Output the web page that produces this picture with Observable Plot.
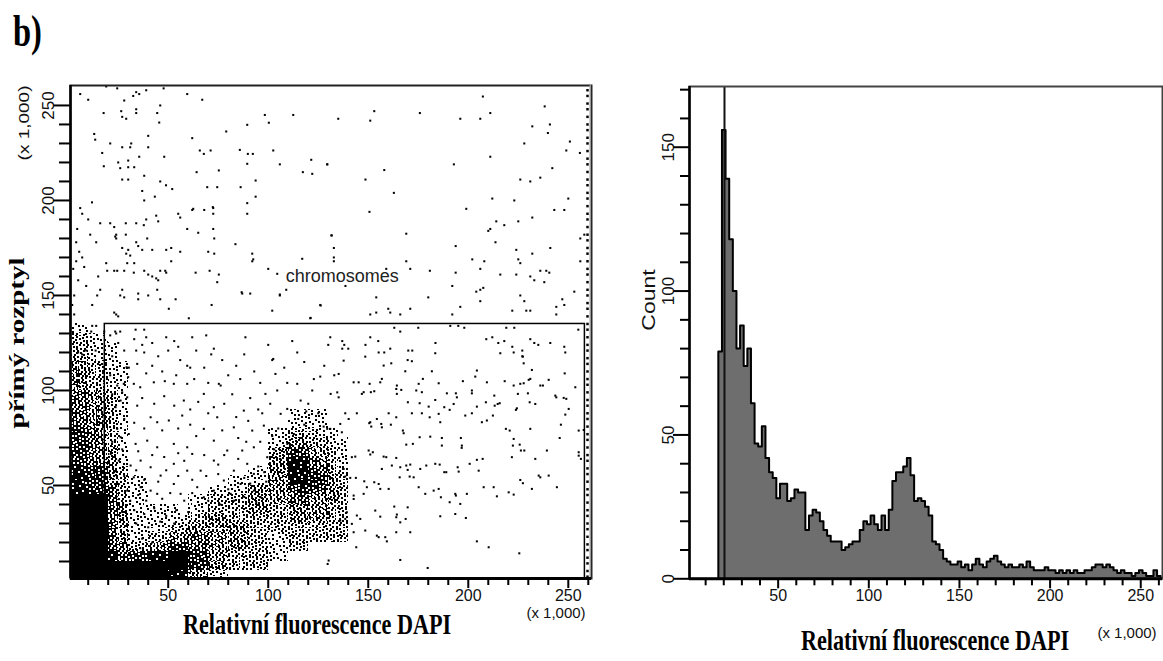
<!DOCTYPE html>
<html><head><meta charset="utf-8">
<script src="https://cdn.jsdelivr.net/npm/d3@7"></script>
<script src="https://cdn.jsdelivr.net/npm/@observablehq/plot@0.6"></script>
<style>
body{margin:0;background:#fff;}
#wrap{position:relative;width:1163px;height:661px;overflow:hidden;background:#fff;}
#wrap > svg{position:absolute;top:0;margin:0;}
</style></head><body><div id="wrap"></div>
<script>
// ---------- DATA ----------
// Histogram (right panel): bin starts (x 1,000) and counts
const histBinStart = [17,19,21,23,25,27,29,31,33,35,37,39,41,43,45,47,49,51,53,55,57,59,61,63,65,67,69,71,73,75,77,79,81,83,85,87,89,91,93,95,97,99,101,103,105,107,109,111,113,115,117,119,121,123,125,127,129,131,133,135,137,139,141,143,145,147,149,151,153,155,157,159,161,163,165,167,169,171,173,175,177,179,181,183,185,187,189,191,193,195,197,199,201,203,205,207,209,211,213,215,217,219,221,223,225,227,229,231,233,235,237,239,241,243,245,247,249,251,253,255,257,259];
const histCount = [79,156,139,118,100,80,88,74,80,61,47,46,53,42,37,35,28,33,33,27,28,31,30,30,17,22,24,23,20,17,15,13,13,13,10,11,12,13,13,17,20,19,22,19,17,22,17,24,34,37,37,39,42,36,27,28,27,25,22,13,12,10,7,6,5,5,6,4,5,3,5,7,5,4,6,7,8,6,5,4,5,4,4,5,4,6,4,3,3,3,4,3,3,2,3,2,3,2,3,2,2,3,3,4,5,5,4,5,4,3,2,3,2,2,1,2,3,2,1,1,3,1];
const histBinWidth = 2;
const histGateX = 20.4;

// Scatter (left panel): density of the saturated areas, 5x5 cells, darkness 0-9
const densityX0 = [0,5,10,15,20,25,30,35,40,45,50,55,60,65,70,75,80,85,90,95,100,105,110,115,120,125,130,135];
const densityY0 = [0,5,10,15,20,25,30,35,40,45,50,55,60,65,70,75,80,85,90,95,100,105,110,115,120,125,130];
const densityRows = [
"9999999999885522110000000000",
"9999999999997744333311000000",
"9999867788997755333322110000",
"9999663355776655443322331110",
"9999642233556655443322333333",
"9999642222334444443333333333",
"9999642222223344333333445533",
"9999642222212233334433445533",
"9999632211112233334455665543",
"8877632211111122224455677643",
"8877432211111111222255887743",
"8877431111111111112244887643",
"7765421111111111111144886532",
"7765421111111111111134765432",
"7765321111111111111122443322",
"7765321111111111111122333221",
"6654321111111111111111222211",
"6654321111111111111111222211",
"6654321111111111111111111111",
"6654321111111111111111111111",
"5433221111111111111111111111",
"5433221111111111111111111111",
"5433221111111111111111111111",
"3322211111111111111111111111",
"3322211111111111111111111111",
"3322111111111111111111111111",
"2211111111111111111111111111"
];

// Scatter: individual events [x, y] (x 1,000)
const scatterPoints = [
[6,256],[10,253],[19,260],[24.5,259],[28,252.6],[32.5,255],[34,257],[35.5,256],[39,258],[47.7,259],[59.5,256],[67,253],[26.5,247],[34,248],[34,246],[46,250],[17.7,246],[27,244],[29,243],[44.5,246],[45.5,241],[13,235],[13.5,232],[21,230],[27,228],[31,228],[31.5,230],[40,234],[40,228],[17,225],[25,220],[30,221],[35.5,223],[48,223],[17.8,218],[26,217],[30,217.5],[33,217.5],[27,211],[30,211],[38,213],[46,210],[48.9,208],[52,206],[37,205],[38,200],[43.3,202],[11.9,199],[7,193],[4.5,185],[16,188],[21,188],[24,182],[23,186],[23.5,181],[24,180],[28.8,188],[28.8,182],[34,188],[39,190],[44,192],[45,189],[37.8,187],[55,193],[56,191],[62,195],[68,195],[72.5,196],[72.5,193],[59.5,185],[65,183],[72.5,185],[73,180],[14,178],[11,182],[5.5,173],[4,168],[2.5,164],[34,178],[35,176],[27,175],[29,172],[30,174],[31,171],[39.5,180],[42,174],[51.5,175],[70,173],[73,172],[83.6,177],[92,172],[92.5,169],[100,164],[19,167],[19.5,163],[23,163],[24.5,163],[28,163],[29.5,167],[33,167],[37,174],[32.8,162],[38,163],[40,161],[42,160],[44,159],[45,158],[46,163],[48.5,163],[49,174],[51.5,168],[56,173],[49,162],[63.7,162],[70.7,163],[75.3,161],[74.5,157],[27,153],[26,150],[28,149],[16,153],[14.5,150],[35,148],[35,151],[40,150],[44.5,153],[46,148],[50.3,143],[53.7,148],[60.3,138],[71.7,145],[87,151],[91,151],[105.8,150],[109,153],[121,138],[126,145],[102,142],[24,140],[25,139],[23,141],[14,134],[18,131],[21,129],[24,130],[11.5,131],[12,134],[5,120],[9,121],[7,119],[13.7,121],[23.5,131],[26,131],[33.7,132],[38,132],[39,128],[49,128],[53,126],[55,123],[34,121],[38,120],[42,125],[62,128],[69,129],[72.8,122],[88.6,128],[102,116],[114.5,120],[130,124],
[3,150],[5,158],[2,145],[8,165],[4,178],[10,190],[6,196],[3,140],[12,145],[9,155],[15,160],[7,170],
[65.8,226.3],[71.2,226.3],[67.8,224.5],[85.8,226.6],[89.8,224.5],[92.3,224.5],[102.5,226.3],[89.5,219.3],[105.8,219],[117.3,214.9],[122,214],[129.5,219],[121.5,221.4],[79,236.3],[89.5,239.8],[98.3,245],[100.3,240.9],[112.5,245],[135,243],[62,232.8],[64.2,214.9],[75.3,215.8],[69.5,207],[74.5,207],[86.2,207],[93.7,210.5],[93.7,202],[89.5,198.6],[89.5,193],[62.5,195.6],[72.3,196.5],[92,168],[131.7,181.6],[132.8,170],[117,169.3],[104.5,161.4],[86.7,151.7],[105.8,150.5],[126.2,144.7],[121.2,138.2],
[207.3,254.7],[238.2,249.5],[240.8,240],[239.8,235.5],[232,239],[250.8,231],[249,226.3],[228,230],[242,217],[226,211],[231,210],[236,212],[211,223],[211,246],[206,243],[196,243],[175.8,246],[153,247],[151,242],[129.5,219],[148.6,211],[158,216],[192.8,219],[162.8,204],[150.6,194],[199,195.6],[212,201],[223,200],[250,201],[243,195],[248,195],[232,191],[214,189],[218,187],[225,189],[211,185],[210,184],[131.6,181.6],[169,182.5],[193.7,176],[213.6,178],[224,174],[232,172],[241,175],[132.8,168],[132.8,175],[159,164],[169,168],[171,164],[180.8,163],[202,169],[206,164],[208,168],[193.7,162],[216,161],[224,161],[225,169],[226,167],[231,160],[233,158],[236,163],[238,157],[239,163],[240.5,162],[256,168],[256,180],[258,182],[255.8,225],[138.6,155],[154,149],[180,149],[192,155],[204,152],[206,153],[207.5,154],[206,147],[226,150],[228,147],[247,148],[248,145],[244,144],[253,152],[151,140],[154,141],[160,143],[161,141],[166,140],[171,143],[192,140],[196,144],[222,142],[229,142],[231,142],[244,140],
[163,133],[166,131],[175,133],[191,134],[195,134],[198,133],[219,133],[223,133],[255,132],[131,128],[137,126],[138,124],[151,128],[155,126],[148.6,124],[137,122],[140,122],[158,120],[161,122],[170,121],[172,121],[183.6,125],[209,127],[212,128],[215,125],[218,126],[222,123],[227,121],[227,118],[231,127],[233,125],[235,124],[241,125],[248,123],
[137.7,115.7],[148.5,117.8],[155.2,120],[157.7,113.1],[161.5,114.3],[169.7,116],[171.8,115.4],[168.5,110.1],[183.5,119.6],[216,119.6],[222.7,120],[227.3,117.8],[227.7,114.3],[231.8,110.8],[248.5,120],[248.2,109],[253.5,101.7],
[135.2,108.7],[142.7,104.3],[145.2,104.3],[150.7,103.5],[156,104.3],[156.8,106.1],[164.3,102.6],[164,100.8],[175.2,103.5],[177.3,106.1],[181.8,110.1],[185.2,103.8],[197.3,104.9],[203.5,107.3],[204.3,110.5],[209.3,104.3],[218.2,104.9],[222.7,102.6],[226,103.5],[227.7,103.8],[230.2,105.6],[231,106.1],[236,102.6],[237.3,102.6],[240.2,105.6],[244,96.4],[247.7,96.1],
[135.2,96.4],[146.8,98.2],[147.7,99.1],[151.3,99.1],[153,99.6],[164.3,98.2],[166.5,100.3],[169.8,93.8],[174,100],[176.8,99.1],[180.2,91.5],[183.5,95],[189.3,98.5],[193.8,98.5],[194.3,96.4],[201.8,98.5],[201.8,100],[208.8,93.8],[213,97.3],[214.7,92.9],[223.8,89.8],[229.8,98.5],[233.5,92.9],[230.7,93.8],[224.8,98.2],[243.5,97.3],[249,95.6],[250.2,90.3],
[138.5,88],[140.2,85],[144.3,88],[151,83.3],[154.3,85],[160.2,88],[161.3,82],[156.8,80.6],[164,85.9],[171.8,88],[175.7,93.3],[176.8,88],[180.7,85.9],[185.2,87.7],[186,83.3],[188,91.2],[190.7,89.8],[192.7,92.9],[198.5,86.8],[201.8,88],[204.3,91.5],[206.8,83.3],[209.3,84.2],[212.3,86.8],[213.2,92],[215.7,93.3],[224.3,90.6],[231,79.8],[246.3,82],[248.5,87.3],
[136,82.4],[131,79.8],[127.7,81],[136.8,78],[150.5,82.8],[151.5,81],[156.5,82.4],[167.3,78.9],[167.7,77.5],[169,71.5],[172.3,71.9],[175.7,75.4],[181,75.7],[186.8,75],[186.8,71],[196.3,75],[196.8,71],[196.7,69.8],[218.8,79.8],[220.7,78.9],[222.7,74.5],[222.3,71],[225.7,71.5],[228,68.4],[239.3,68.4],[245.7,75],[255.2,78.9],[257.7,79.2],
[141.8,64.9],[143.5,65.2],[150.2,68.4],[151,66.3],[152.3,67.5],[156.8,58.7],[157.7,65.2],[159,64.9],[161.8,60.5],[164,64.5],[166,59.6],[169,60.5],[169.7,58.2],[171,61],[172.7,54.3],[176,58.7],[179,60.5],[183.5,61.4],[185.7,61],[188,57],[189,57],[194.7,59.6],[195.2,57.3],[200.7,61.4],[204.3,63.5],[205.2,57.8],[207.2,64],[221.8,64.9],[226.3,68.4],[233.5,64],[255.2,67.5],[255.2,65.7],[256.3,64],
[138.5,54.7],[137.7,58.7],[141,54],[143.8,54],[148,52.2],[149.3,49.1],[153,51.7],[155.2,50.8],[156,48.2],[160.2,48.2],[165.7,54.3],[170.7,54.7],[175.2,49.1],[178.5,45.6],[182.7,47.3],[185.2,48.2],[186.3,43.8],[190.7,41.2],[193.5,45.6],[193.8,44.7],[196,40.3],[199.3,45.6],[207.7,49.1],[212.7,49.1],[214.3,44.3],[220.2,46.4],[222.7,45.2],[226,52.9],[227.3,51.2],[231.8,48.2],[235.2,55.2],[236,54.3],[240.2,55.2],[244.3,49.1],
[142.7,44.7],[142.7,42.9],[147.7,45.6],[153.5,36.8],[156,33.6],[163,38.9],[164.3,34.7],[166,30.6],[168.7,32.4],[169.7,38.5],[164,33.3],[186,33.8],[193.5,35],[198.8,32.9],[144.3,34.2],[146,32.4],[139.3,35.9],[138.5,32.4],[136,31.5],[141.8,29.8],[142.7,25.4],[144,17.5],[148.5,26.3],[154.3,23.6],[155.2,22.8],[158.5,22.8],[159.3,20.6],[164,25.4],[171,25.4],[130.2,10.5],[129.7,8.7],[166,10.8],[179.7,6.6],[204.3,20.6],[210.2,17.5],[225.5,14.3],
[29.2,112.2],[34.5,114],[30.3,112],[42,113],[59.5,113],[61,112],[71.5,119],[75.3,103.5],[84,113],[102.5,116.6],[103.6,108.7],[109.5,104],[114.5,103.5],[122.8,106],[126,107.3],[24.5,102.6],[27.8,103.5],[32.8,103.5],[36,101.7],[42.8,104.3],[48.3,104.9],[52.8,103.5],[59.5,103.5],[67.8,98.2],[72.8,91.2],[57.8,94.7],[76.2,102.6],[87.8,89.4],[98.6,98.2],[104.5,100],[106.2,87.7],[109.5,90.3],[116.2,94.7],[122,100],[131.2,98.2],[134.5,99],[23.7,91.2],[26.2,94.7],[29.5,96.4],[34.5,92],[41.2,85.9],[44.5,83.3],[50.3,84.2],[57,86.8],[67.8,79.8],[74.5,85.9],[82.8,80.6],[92,78.9],[97.8,81.5],[109.5,71.9],[112.8,77.1],[129.5,79.8],[24.5,79.8],[26.2,75.4],[30.3,77.1],[33.7,71.9],[39.5,73.6],[44.5,70.1],[52.8,71.9],[59.5,70.1],[62,66.6],[72.8,73.6],[79.5,68.4],[87,68.4],[92.8,70.1],[99.5,64.9],[21.2,66.6],[25.3,63.1],[31.2,60.5],[36.2,63.1],[41.2,59.6],[46.2,55.2],[52.8,61.4],[59.5,57.8],[66.2,57.8],[72.8,63.1],[82.8,57.8],[89.5,61.4],[92.8,56.1],[25.3,50.8],[29.5,47.3],[32.8,54.3],[36.2,49.1],[41.2,47.3],[44.5,45.6],[52.8,50.8],[56.2,45.6],[64.5,49.1],[67.8,43.8],[72.8,47.3],[77.8,52.6],[81.2,45.6],[86.2,50.8],[92.8,47.3],[96.2,43.8],
[22,118],[25,125],[28,121],[33,127],[37,124],[45,118],[50,121],[56,116],[64,121],[68,112],[77,116],[80,108],[88,119],[93,110],[96,104],[100,124],[108,112],[112,126],[118,115],[120,93],[125,88],[128,113],[133,108],[21,108],[30,107],[39,109],[47,110],[54,108],[63,106],[70,104],[82,98],[86,106],[91,96],[95,90],[101,93],[105,80],[115,85],[118,82],[22,98],[27,99],[37,96],[43,93],[48,97],[53,92],[61,90],[65,94],[70,88],[78,93],[84,86],[90,84],[97,88],[102,76],[119,89],[21,86],[28,85],[33,83],[38,80],[47,79],[55,80],[61,82],[64,76],[77,79],[85,75],[89,73],[96,73],[103,69],[106,64],[22,73],[27,69],[35,68],[42,66],[48,65],[55,67],[58,63],[68,66],[75,61],[78,66],[85,64],[95,60],[98,57],[23,57],[28,55],[34,58],[38,53],[45,52],[49,58],[55,55],[62,53],[69,55],[75,56],[80,48],[88,54],[91,51],[99,52],[24,44],[31,42],[35,45],[39,42],[47,43],[51,46],[58,42],[62,46],[70,42],[76,40],[83,42],[88,44],[94,41],[27,36],[33,37],[38,35],[43,38],[49,34],[54,37],[60,36],[34,30],[40,28],[46,31],[53,30],[30,24],[37,22],[42,20],[36,17]
];
// saturated events piled at the right edge of the scatter
const edgeX = 259.6;
const edgeY = [2,5,9,12,16,19,23,27,30,34,37,41,45,48,52,56,59,63,66,70,74,77,81,85,88,92,95,99,103,106,110,114,117,121,124,128,132,135,139,143,146,150,153,157,161,164,168,172,175,179,182,186,190,193,197,201,204,208,211,215,219,222,226,230,233,237,240,244,248,251,255,258];
// gate "chromosomes"
const gateBox = {x1: 18.3, x2: 258.3, y1: 1.05, y2: 135};
const gateLabel = {x: 137, y: 160, text: "chromosomes"};

// ticks
const scatterXMajor = [50,100,150,200,250];
const scatterXMinor = [10,20,30,40,60,70,80,90,110,120,130,140,160,170,180,190,210,220,230,240,260];
const scatterYMajor = [50,100,150,200,250];
const scatterYMinor = [10,20,30,40,60,70,80,90,110,120,130,140,160,170,180,190,210,220,230,240];
const histXMajor = [50,100,150,200,250];
const histXMinor = [10,20,30,40,60,70,80,90,110,120,130,140,160,170,180,190,210,220,230,240,260];
const histYMajor = [0,50,100,150];
const histYMinor = [10,20,30,40,60,70,80,90,110,120,130,140,160,170];

// ---------- STYLE: speckle textures for the density levels ----------
const ns = "http://www.w3.org/2000/svg";
const SANS = "Liberation Sans, Arial, sans-serif";
const SERIF = "Liberation Serif, Times New Roman, serif";
const levelCoverage = [0, 0, 0.17, 0.3, 0.42, 0.54, 0.66, 0.78, 0.9, 1];
(function makePatterns() {
  const holder = document.createElementNS(ns, "svg");
  holder.setAttribute("width", 0); holder.setAttribute("height", 0);
  holder.style.position = "absolute";
  const defs = document.createElementNS(ns, "defs");
  const W = 48, a1 = 0.7548776662, a2 = 0.5698402910;
  for (let L = 2; L <= 9; L++) {
    const p = document.createElementNS(ns, "pattern");
    p.setAttribute("id", "speck" + L);
    p.setAttribute("patternUnits", "userSpaceOnUse");
    p.setAttribute("width", W); p.setAttribute("height", W);
    const c = levelCoverage[L];
    const dark = c > 0.5;
    if (dark) {
      const bg = document.createElementNS(ns, "rect");
      bg.setAttribute("width", W); bg.setAttribute("height", W); bg.setAttribute("fill", "#000");
      p.appendChild(bg);
    }
    const n = Math.round((dark ? 1 - c : c) * W * W / 4 * 1.25);
    for (let i = 0; i < n; i++) {
      const k = i + L * 37;
      const r = document.createElementNS(ns, "rect");
      r.setAttribute("x", Math.floor(((0.5 + k * a1) % 1) * W));
      r.setAttribute("y", Math.floor(((0.5 + k * a2) % 1) * W));
      r.setAttribute("width", 2); r.setAttribute("height", 2);
      r.setAttribute("fill", dark ? "#fff" : "#000");
      p.appendChild(r);
    }
    defs.appendChild(p);
  }
  holder.appendChild(defs);
  document.body.appendChild(holder);
})();

// ---------- DRAW ----------
const wrap = document.getElementById("wrap");

const cells = [];
densityRows.forEach((row, i) => {
  for (let j = 0; j < row.length; j++) {
    const d = +row[j];
    if (d >= 2) cells.push({x1: densityX0[j], x2: densityX0[j] + 5, y1: densityY0[i], y2: densityY0[i] + 5, d});
  }
});
const cellMarks = [];
for (let L = 2; L <= 9; L++) {
  cellMarks.push(Plot.rect(cells.filter(c => c.d === L), {x1: "x1", x2: "x2", y1: "y1", y2: "y2", fill: L === 9 ? "black" : `url(#speck${L})`, clip: true, shapeRendering: "crispEdges"}));
}

const left = Plot.plot({
  width: 600, height: 661,
  marginLeft: 70, marginRight: 9, marginTop: 85, marginBottom: 83,
  x: {domain: [1.15, 261.6]},
  y: {domain: [1.05, 260.5]},
  style: {background: "transparent", overflow: "visible"},
  marks: [
    ...cellMarks,
    Plot.dot(scatterPoints, {x: d => d[0], y: d => d[1], r: 1.15, symbol: "square", fill: "black", stroke: "none", clip: true}),
    Plot.dot(edgeY, {x: () => edgeX, y: d => d, r: 1.4, symbol: "square", fill: "black", stroke: "none", clip: true}),
    Plot.rect([gateBox], {x1: "x1", x2: "x2", y1: "y1", y2: "y2", fill: "none", stroke: "black", strokeWidth: 1.5}),
    Plot.text([gateLabel], {x: "x", y: "y", text: "text", fontSize: 18, fontFamily: SANS, fill: "#222"}),
    Plot.frame({stroke: "#222", strokeWidth: 2}),
    Plot.ruleX([261.0], {stroke: "#999", strokeWidth: 1.5}),
    Plot.ruleX([1.15], {stroke: "black", strokeWidth: 2.5}),
    Plot.ruleY([1.05], {stroke: "black", strokeWidth: 3}),
    Plot.axisX(scatterXMinor, {tickSize: 7, tickFormat: () => "", strokeWidth: 2}),
    Plot.axisX(scatterXMajor, {tickSize: 10, tickPadding: 1, strokeWidth: 2, fontSize: 16, fontFamily: SANS, fill: "#111"}),
    Plot.axisY(scatterYMinor, {tickSize: 11, tickFormat: () => "", strokeWidth: 2}),
    Plot.axisY(scatterYMajor, {tickSize: 17, tickFormat: () => "", strokeWidth: 2}),
    Plot.text(scatterYMajor, {y: d => d, frameAnchor: "left", dx: -22, rotate: -90, text: d => String(d), fontSize: 17, fontFamily: SANS, fill: "#111", textAnchor: "middle", lineAnchor: "middle"})
  ]
});
left.style.left = "0px";
wrap.appendChild(left);

const histBins = histBinStart.map((x0, i) => ({x0, x1: x0 + histBinWidth, c: histCount[i]}));
const outline = [{x: histBinStart[0], y: 0}]
  .concat(histBins.map(b => ({x: b.x0, y: b.c})))
  .concat([{x: histBins[histBins.length - 1].x1, y: histCount[histCount.length - 1]}, {x: histBins[histBins.length - 1].x1, y: 0}]);

const right = Plot.plot({
  width: 563, height: 661,
  marginLeft: 89, marginRight: 1, marginTop: 86, marginBottom: 82.7,
  x: {domain: [1.1, 262]},
  y: {domain: [0, 171.1]},
  style: {background: "transparent", overflow: "visible"},
  marks: [
    Plot.rectY(histBins, {x1: "x0", x2: "x1", y: "c", fill: "#6e6e6e", inset: 0, shapeRendering: "crispEdges"}),
    Plot.line(outline, {x: "x", y: "y", curve: "step-after", stroke: "black", strokeWidth: 2}),
    Plot.ruleX([histGateX], {stroke: "#111", strokeWidth: 2}),
    Plot.frame({stroke: "#444", strokeWidth: 2}),
    Plot.ruleX([1.1], {stroke: "black", strokeWidth: 2.5}),
    Plot.ruleY([0], {stroke: "black", strokeWidth: 3}),
    Plot.axisX(histXMinor, {tickSize: 7, tickFormat: () => "", strokeWidth: 2}),
    Plot.axisX(histXMajor, {tickSize: 10, tickPadding: 1, strokeWidth: 2, fontSize: 16, fontFamily: SANS, fill: "#111"}),
    Plot.axisY(histYMinor, {tickSize: 9, tickFormat: () => "", strokeWidth: 2}),
    Plot.axisY(histYMajor, {tickSize: 16, tickFormat: () => "", strokeWidth: 2}),
    Plot.text(histYMajor, {y: d => d, frameAnchor: "left", dx: -21, rotate: -90, text: d => String(d), fontSize: 17, fontFamily: SANS, fill: "#111", textAnchor: "middle", lineAnchor: "middle"})
  ]
});
right.style.left = "600px";
wrap.appendChild(right);

// ---------- TEXT LABELS ----------
const ov = document.createElementNS(ns, "svg");
ov.setAttribute("width", 1163); ov.setAttribute("height", 661);
ov.style.position = "absolute"; ov.style.left = "0px"; ov.style.top = "0px"; ov.style.pointerEvents = "none";
function addText(str, tx, ty, opts) {
  const t = document.createElementNS(ns, "text");
  t.textContent = str;
  t.setAttribute("font-family", opts.family || SANS);
  t.setAttribute("font-size", opts.size);
  if (opts.weight) t.setAttribute("font-weight", opts.weight);
  t.setAttribute("text-anchor", opts.anchor || "middle");
  if (opts.baseline) t.setAttribute("dominant-baseline", opts.baseline);
  t.setAttribute("fill", opts.fill || "#000");
  t.setAttribute("transform", `translate(${tx},${ty})` + (opts.rotate ? ` rotate(${opts.rotate})` : "") + ` scale(${opts.sx || 1},${opts.sy || 1})`);
  ov.appendChild(t);
}
addText("b)", 13, 46, {family: SERIF, size: 44, weight: "bold", anchor: "start", sx: 0.74});
addText("Relativní fluorescence DAPI", 317, 634, {family: SERIF, size: 30, weight: "bold", sx: 0.74});
addText("Relativní fluorescence DAPI", 935, 650, {family: SERIF, size: 30, weight: "bold", sx: 0.74});
addText("přímý rozptyl", 17, 343, {family: SERIF, size: 29, weight: "bold", rotate: -90, baseline: "central", sy: 0.72});
addText("(x 1,000)", 556, 618, {size: 15, fill: "#111"});
addText("(x 1,000)", 1127, 638, {size: 15, fill: "#111"});
addText("(x 1,000)", 24, 123, {size: 19, fill: "#111", rotate: -90, baseline: "central", sy: 0.8});
addText("Count", 648, 300, {size: 23, fill: "#111", rotate: -90, baseline: "central", sy: 0.78});
wrap.appendChild(ov);
</script></body></html>
